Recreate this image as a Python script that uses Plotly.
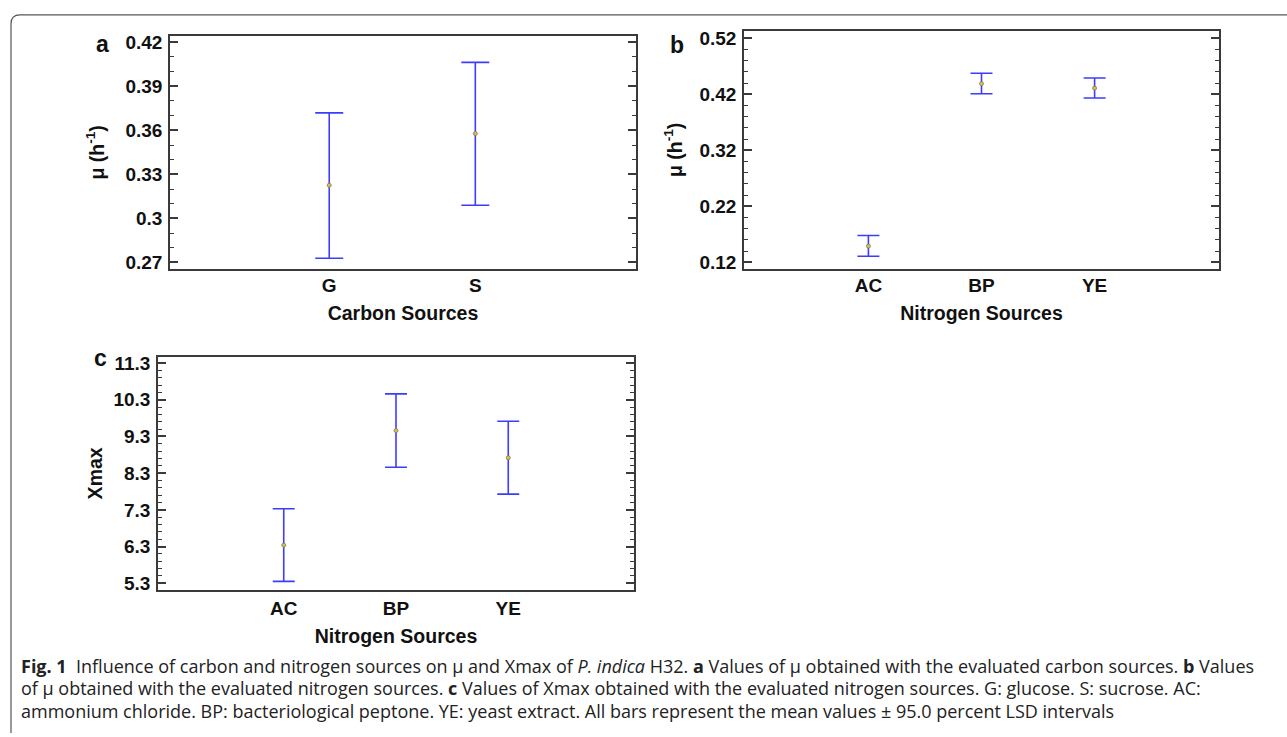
import plotly.graph_objects as go

W, H = 1287, 737

# ---------------- data ----------------
carbon_sources = ["G", "S"]
mu_carbon_mean = [0.3226, 0.3578]
mu_carbon_low = [0.2729, 0.3090]
mu_carbon_high = [0.3719, 0.4063]

nitrogen_sources = ["AC", "BP", "YE"]
mu_nitrogen_mean = [0.149, 0.439, 0.431]
mu_nitrogen_low = [0.131, 0.421, 0.4135]
mu_nitrogen_high = [0.168, 0.4576, 0.449]

xmax_nitrogen_mean = [6.34, 9.46, 8.72]
xmax_nitrogen_low = [5.354, 8.459, 7.728]
xmax_nitrogen_high = [7.33, 10.46, 9.713]

ticks_a = [0.27, 0.30, 0.33, 0.36, 0.39, 0.42]
ticklabels_a = ["0.27", "0.3", "0.33", "0.36", "0.39", "0.42"]
ticks_b = [0.12, 0.22, 0.32, 0.42, 0.52]
ticklabels_b = ["0.12", "0.22", "0.32", "0.42", "0.52"]
ticks_c = [5.3, 6.3, 7.3, 8.3, 9.3, 10.3, 11.3]
ticklabels_c = ["5.3", "6.3", "7.3", "8.3", "9.3", "10.3", "11.3"]

# ---------------- styling ----------------
BAR = "rgb(60,60,255)"
FONT = "Liberation Sans, Arial, sans-serif"
CAPFONT = "Open Sans, Liberation Sans, sans-serif"
AX = "#3a3a3a"


def px(x):
    return x / W


def py(y):
    return 1 - y / H


fig = go.Figure()


def add_panel(xcats, mean, low, high, xa, ya, capw):
    plus = [h - m for h, m in zip(high, mean)]
    minus = [m - l for m, l in zip(mean, low)]
    fig.add_trace(go.Scatter(
        x=xcats, y=mean, mode="markers",
        xaxis=xa, yaxis=ya,
        marker=dict(size=4, color="#cfc060", line=dict(color="#8a7d30", width=0.8)),
        error_y=dict(type="data", symmetric=False, array=plus, arrayminus=minus,
                     color=BAR, thickness=1.6, width=capw),
        showlegend=False, hoverinfo="x+y",
    ))


add_panel(carbon_sources, mu_carbon_mean, mu_carbon_low, mu_carbon_high, "x", "y", 14)
add_panel(nitrogen_sources, mu_nitrogen_mean, mu_nitrogen_low, mu_nitrogen_high, "x2", "y2", 11)
add_panel(nitrogen_sources, xmax_nitrogen_mean, xmax_nitrogen_low, xmax_nitrogen_high, "x3", "y3", 11)

tickfont = dict(family=FONT, size=19, color="#111", weight="bold")
titlefont = dict(family=FONT, size=19.5, color="#111", weight="bold")


def xaxis_cfg(dom, anchor, rng, title, lab_off, title_off):
    return dict(domain=dom, anchor=anchor, type="category", range=rng,
                showline=True, linecolor=AX, linewidth=1.5, mirror=True,
                ticks="", showgrid=False, zeroline=False,
                tickfont=tickfont, ticklabelstandoff=lab_off,
                title=dict(text=title, font=titlefont, standoff=title_off))


def yaxis_cfg(dom, anchor, rng, tv, tt, minor_dt, title, standoff):
    return dict(domain=dom, anchor=anchor, range=rng,
                tickvals=tv, ticktext=tt,
                showline=True, linecolor=AX, linewidth=1.5, mirror="allticks",
                ticks="inside", ticklen=8, tickwidth=1.5, tickcolor=AX,
                minor=dict(dtick=minor_dt, tick0=tv[0], ticks="inside",
                           ticklen=4, tickwidth=1.2, tickcolor=AX),
                showgrid=False, zeroline=False,
                tickfont=tickfont, ticklabelstandoff=2,
                title=dict(text=title, font=titlefont, standoff=standoff))


fig.update_layout(
    width=W, height=H,
    margin=dict(l=0, r=0, t=0, b=0),
    paper_bgcolor="white", plot_bgcolor="white",
    xaxis=xaxis_cfg([px(170), px(636)], "y", [-1.09, 2.1], "Carbon Sources", -2, 12),
    yaxis=yaxis_cfg([py(268), py(32)], "x", [0.2655, 0.4245], ticks_a, ticklabels_a, 0.01,
                    "μ (h<sup>-1</sup>)", 16),
    xaxis2=xaxis_cfg([px(744), px(1219)], "y2", [-1.1, 3.1], "Nitrogen Sources", -2, 12),
    yaxis2=yaxis_cfg([py(268), py(27)], "x2", [0.108, 0.5335], ticks_b, ticklabels_b, 0.02,
                     "μ (h<sup>-1</sup>)", 12),
    xaxis3=xaxis_cfg([px(158), px(634)], "y3", [-1.12, 3.12], "Nitrogen Sources", 1, 11),
    yaxis3=yaxis_cfg([py(592), py(357)], "x3", [5.13, 11.46], ticks_c, ticklabels_c, 0.2,
                     "Xmax", 6),
)

# panel letters
for letter, x, y in [("a", 102, 40), ("b", 677, 41), ("c", 100, 358)]:
    fig.add_annotation(text=letter, x=px(x), y=py(y), xref="paper", yref="paper",
                       showarrow=False, xanchor="center", yanchor="middle",
                       font=dict(family=FONT, size=23, color="#111", weight="bold"))

# caption
caption_lines = [
    "<b>Fig. 1</b>  Influence of carbon and nitrogen sources on μ and Xmax of <i>P. indica</i> H32. "
    "<b>a</b> Values of μ obtained with the evaluated carbon sources. <b>b</b> Values",
    "of μ obtained with the evaluated nitrogen sources. <b>c</b> Values of Xmax obtained with the "
    "evaluated nitrogen sources. G: glucose. S: sucrose. AC:",
    "ammonium chloride. BP: bacteriological peptone. YE: yeast extract. All bars represent the mean "
    "values ± 95.0 percent LSD intervals",
]
for line, y in zip(caption_lines, [669, 692, 715]):
    fig.add_annotation(text=line, x=px(19), y=py(y), xref="paper", yref="paper",
                       showarrow=False, xanchor="left", yanchor="middle",
                       font=dict(family=CAPFONT, size=18, color="#222"))

# frame with rounded top-left corner
path = (f"M {px(11)},{py(737)} L {px(11)},{py(20)} "
        f"Q {px(11)},{py(11)} {px(20)},{py(11)} L {px(1287)},{py(11)}")
fig.add_shape(type="path", path=path, xref="paper", yref="paper",
              line=dict(color="#555", width=1.2))

fig.write_html("out.html",
               config={"displayModeBar": False},
               post_script="document.body.style.margin='0';document.body.style.padding='0';")
